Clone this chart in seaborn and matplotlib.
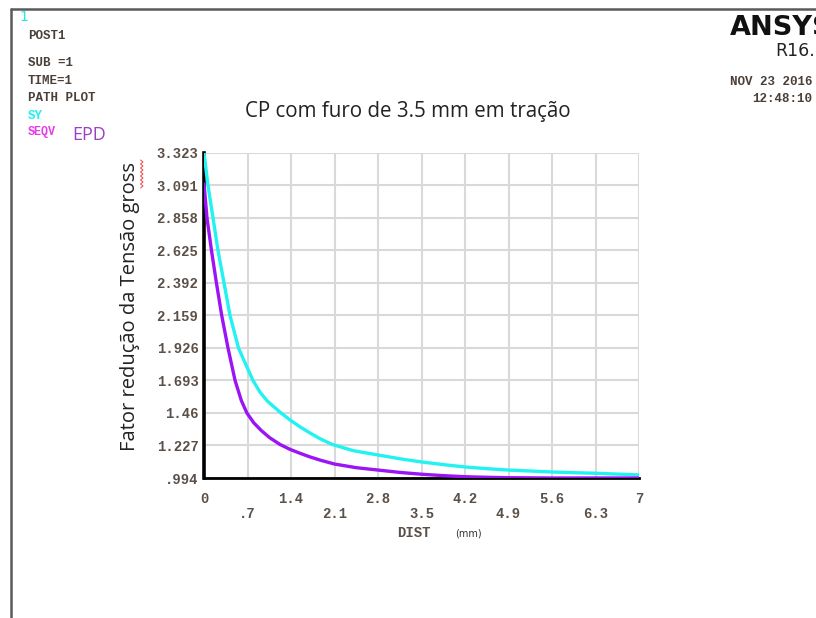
import numpy as np
import pandas as pd
import matplotlib
matplotlib.use("Agg")
import matplotlib.pyplot as plt
from matplotlib.lines import Line2D
import seaborn as sns

# Path results along the section (distance in mm)
sy_dist = [0.000, 0.064, 0.145, 0.225, 0.322, 0.418, 0.555, 0.65, 0.788, 0.90, 1.02, 1.239,
           1.40, 1.54, 1.70, 1.87, 2.06, 2.40, 2.80, 3.15, 3.50, 3.85, 4.20, 4.55, 4.90,
           5.25, 5.60, 5.95, 6.30, 6.65, 7.00]
sy_vals = [3.323, 3.091, 2.858, 2.625, 2.392, 2.159, 1.926, 1.83, 1.693, 1.61, 1.545, 1.46,
           1.405, 1.362, 1.318, 1.275, 1.235, 1.19, 1.159, 1.132, 1.109, 1.09, 1.073, 1.061,
           1.051, 1.044, 1.037, 1.032, 1.028, 1.022, 1.016]

seqv_dist = [0.000, 0.048, 0.12, 0.20, 0.285, 0.386, 0.50, 0.60, 0.69, 0.80, 0.92, 1.05,
             1.22, 1.38, 1.54, 1.70, 1.87, 2.10, 2.45, 2.80, 3.15, 3.50, 3.85, 4.20, 4.55,
             4.90, 5.60, 6.30, 7.00]
seqv_vals = [3.10, 2.858, 2.625, 2.392, 2.159, 1.926, 1.693, 1.55, 1.46, 1.39, 1.335, 1.285,
             1.235, 1.20, 1.172, 1.146, 1.122, 1.094, 1.068, 1.051, 1.034, 1.021, 1.011,
             1.003, 0.999, 0.996, 0.994, 0.994, 0.994]

y_ticks = [0.994, 1.227, 1.46, 1.693, 1.926, 2.159, 2.392, 2.625, 2.858, 3.091, 3.323]
y_labels = [".994", "1.227", "1.46", "1.693", "1.926", "2.159", "2.392", "2.625", "2.858",
            "3.091", "3.323"]
x_major = [0, 1.4, 2.8, 4.2, 5.6, 7.0]
x_major_labels = ["0", "1.4", "2.8", "4.2", "5.6", "7"]
x_minor = [0.7, 2.1, 3.5, 4.9, 6.3]
x_minor_labels = [".7", "2.1", "3.5", "4.9", "6.3"]

df = pd.concat([
    pd.DataFrame({"DIST": sy_dist, "valor": sy_vals, "item": "SY"}),
    pd.DataFrame({"DIST": seqv_dist, "valor": seqv_vals, "item": "SEQV"}),
])

sns.set_theme(style="white")
W, H = 816, 618
fig = plt.figure(figsize=(W / 100, H / 100), dpi=100)
fig.patch.set_facecolor("white")

def fx(px):
    return np.asarray(px) / W

def fy(py):
    return 1 - np.asarray(py) / H

ax = fig.add_axes([fx(204), fy(478), fx(639) - fx(204), fy(153) - fy(478)])
ax.set_facecolor("white")

palette = {"SY": "#22f2f2", "SEQV": "#9a14f5"}
sns.lineplot(data=df, x="DIST", y="valor", hue="item", palette=palette,
             linewidth=2.4, ax=ax, legend=False, zorder=4)

ax.set_xlim(0, 7)
ax.set_ylim(0.994, 3.323)

mono = dict(family="Liberation Mono", weight="bold", size=10, color="#5b5048")
ax.set_yticks(y_ticks)
ax.set_yticklabels(y_labels, **mono)
ax.set_xticks(x_major)
ax.set_xticklabels(x_major_labels, **mono)
ax.set_xticks(x_minor, minor=True)
ax.set_xticklabels(x_minor_labels, minor=True, **mono)
ax.tick_params(axis="both", which="both", length=0)
ax.tick_params(axis="y", pad=4)
ax.tick_params(axis="x", which="major", pad=10)
ax.tick_params(axis="x", which="minor", pad=21)
ax.grid(True, which="both", color="#d9d9d9", linewidth=1.5, zorder=0)
ax.set_axisbelow(True)
ax.set_xlabel("")
ax.set_ylabel("")

for side in ("top", "right"):
    ax.spines[side].set_visible(False)
ax.spines["left"].set_color("black")
ax.spines["left"].set_linewidth(2.6)
ax.spines["bottom"].set_color("black")
ax.spines["bottom"].set_linewidth(2.0)
ax.spines["left"].set_zorder(3)
ax.spines["bottom"].set_zorder(3)

# Axis captions
fig.text(fx(414), fy(533), "DIST", ha="center", va="center", **mono)
fig.text(fx(468), fy(534), "(mm)", ha="center", va="center", family="DejaVu Sans",
         size=7, color="#333333")
fig.text(fx(407.5), fy(111), "CP com furo de 3.5 mm em tração", ha="center", va="center",
         family="Open Sans", size=14.8, color="#222222")
fig.text(fx(130), fy(307), "Fator redução da Tensão gross", ha="center", va="center",
         rotation=90, family="Open Sans", size=14.5, color="#222222")

# Spell-check squiggle under "gross"
sq_y = np.arange(160, 190, 2.0)
sq_x = np.where(np.arange(sq_y.size) % 2 == 0, 140.5, 143.0)
fig.add_artist(Line2D(fx(sq_x), fy(sq_y), color="#e84a4a", linewidth=0.7))

# Window frame
fig.add_artist(Line2D([fx(11), fx(11)], [fy(9), fy(H)], color="#5a5a5a", linewidth=1.8))
fig.add_artist(Line2D([fx(11), fx(W)], [fy(9), fy(9)], color="#5a5a5a", linewidth=1.8))

# Header block
hdr = dict(family="Liberation Mono", weight="bold", size=9, color="#4a4038", va="center")
fig.text(fx(19), fy(17), "1", family="DejaVu Sans", size=10, color="#22e8e8", va="center")
fig.text(fx(28), fy(36), "POST1", **hdr)
fig.text(fx(28), fy(63), "SUB =1", **hdr)
fig.text(fx(28), fy(81), "TIME=1", **hdr)
fig.text(fx(28), fy(98), "PATH PLOT", **hdr)
fig.text(fx(28), fy(116), "SY", **{**hdr, "color": "#22eeee"})
fig.text(fx(28), fy(132), "SEQV", **{**hdr, "color": "#e63de6", "size": 8.5})
fig.text(fx(72), fy(135), "EPD", family="Open Sans", size=13, color="#9b3fc4", va="center")

fig.text(fx(730), fy(28), "ANSYS", family="DejaVu Sans", weight="bold", size=19.5,
         color="#111111", va="center")
fig.text(fx(775), fy(51), "R16.2", family="DejaVu Sans", size=12.5, color="#222222",
         va="center")
fig.text(fx(812), fy(82), "NOV 23 2016", ha="right", **hdr)
fig.text(fx(812), fy(99), "12:48:10", ha="right", **hdr)

fig.savefig("out.png", dpi=100, facecolor="white")
